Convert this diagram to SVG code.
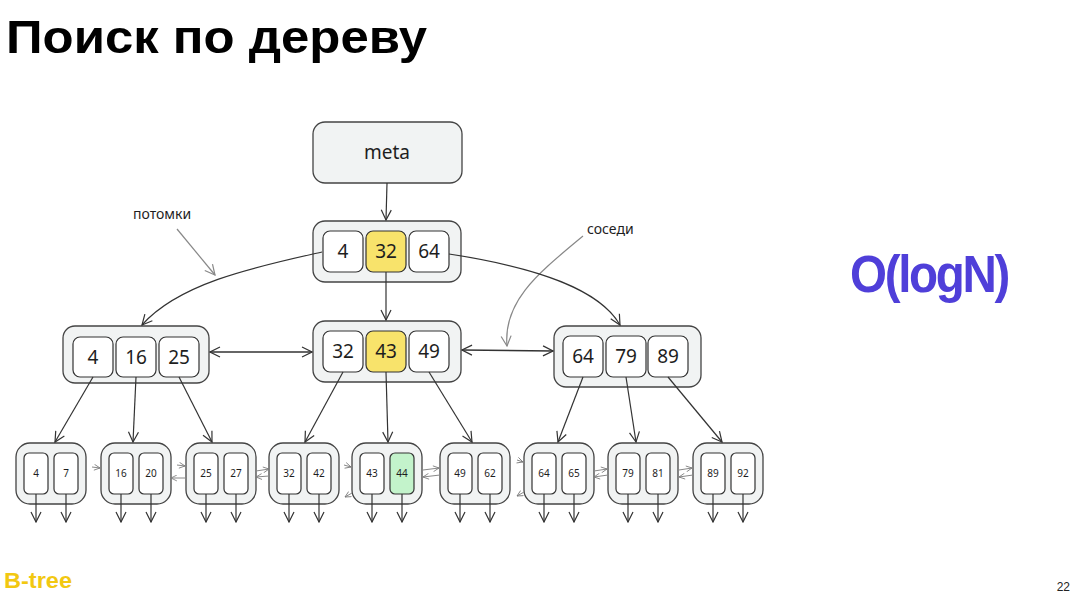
<svg xmlns="http://www.w3.org/2000/svg" width="1077" height="598" viewBox="0 0 1077 598">
  <defs>
    <marker id="arr" viewBox="0 0 12 12" refX="11" refY="6" markerWidth="12" markerHeight="12" markerUnits="userSpaceOnUse" orient="auto-start-reverse">
      <path d="M1,1 L11,6 L1,11" fill="none" stroke="#333" stroke-width="1.2"/>
    </marker>
    <marker id="arrGray" viewBox="0 0 12 12" refX="11" refY="6" markerWidth="12" markerHeight="12" markerUnits="userSpaceOnUse" orient="auto">
      <path d="M1,1 L11,6 L1,11" fill="none" stroke="#888" stroke-width="1.2"/>
    </marker>
    <marker id="arrSmall" viewBox="0 0 12 12" refX="11" refY="6" markerWidth="7" markerHeight="7" markerUnits="userSpaceOnUse" orient="auto-start-reverse">
      <path d="M1,1 L11,6 L1,11" fill="none" stroke="#777" stroke-width="1.4"/>
    </marker>
  </defs>
  <style>
    .node { fill: #f1f3f3; stroke: #444; stroke-width: 1.3; }
    .cell { fill: #ffffff; stroke: #333; stroke-width: 1.2; }
    .hl { fill: #f8e36b; }
    .found { fill: #c3f3cb; }
    .num { font-family: "Noto Sans", "DejaVu Sans", sans-serif; font-size: 19px; fill: #1e1e1e; text-anchor: middle; }
    .leafnum { font-family: "Noto Sans", "DejaVu Sans", sans-serif; font-size: 10px; fill: #1e1e1e; text-anchor: middle; }
    .note { font-family: "Noto Sans", "DejaVu Sans", sans-serif; font-size: 14px; fill: #1e1e1e; }
    .edge { fill: none; stroke: #333; stroke-width: 1.2; marker-end: url(#arr); }
    .both { fill: none; stroke: #333; stroke-width: 1.4; marker-start: url(#arr); marker-end: url(#arr); }
    .hint { fill: none; stroke: #888; stroke-width: 1.2; marker-end: url(#arrGray); }
    .link { fill: none; stroke: #888; stroke-width: 1; marker-end: url(#arrSmall); }
  </style>

  <rect width="1077" height="598" fill="#ffffff"/>

  <!-- slide title -->
  <text x="6" y="53" font-family="Liberation Sans, Arial, sans-serif" font-weight="bold" font-size="46" fill="#000" textLength="421" lengthAdjust="spacingAndGlyphs">Поиск по дереву</text>

  <!-- complexity -->
  <text x="850" y="292" font-family="Liberation Sans, Arial, sans-serif" font-weight="bold" font-size="51" fill="#4f3fd9" letter-spacing="-2.5" textLength="158" lengthAdjust="spacingAndGlyphs">O(logN)</text>

  <!-- footer -->
  <text x="4" y="588" font-family="Liberation Sans, Arial, sans-serif" font-weight="bold" font-size="22" fill="#f2c811" textLength="68" lengthAdjust="spacingAndGlyphs">B-tree</text>
  <text x="1070" y="591" font-family="Liberation Sans, Arial, sans-serif" font-size="12" fill="#222" text-anchor="end">22</text>

  <!-- meta page -->
  <g id="meta">
    <rect x="313" y="122" width="149" height="61" rx="12" class="node"/>
    <text x="387" y="159" class="num" font-size="17">meta</text>
  </g>

  <!-- root page -->
  <g id="root">
    <rect x="313" y="221" width="148" height="61" rx="12" class="node"/>
    <rect x="323" y="231" width="40" height="41" rx="7" class="cell"/>
    <rect x="366" y="231" width="40" height="41" rx="7" class="cell hl"/>
    <rect x="409" y="231" width="40" height="41" rx="7" class="cell"/>
    <text x="343" y="258" class="num">4</text>
    <text x="386" y="258" class="num">32</text>
    <text x="429" y="258" class="num">64</text>
  </g>

  <!-- internal pages -->
  <g id="inner-left">
    <rect x="63" y="326" width="146" height="57" rx="12" class="node"/>
    <rect x="73" y="337" width="40" height="40" rx="7" class="cell"/>
    <rect x="116" y="337" width="40" height="40" rx="7" class="cell"/>
    <rect x="159" y="337" width="40" height="40" rx="7" class="cell"/>
    <text x="93" y="364" class="num">4</text>
    <text x="136" y="364" class="num">16</text>
    <text x="179" y="364" class="num">25</text>
  </g>
  <g id="inner-mid">
    <rect x="313" y="321" width="148" height="61" rx="12" class="node"/>
    <rect x="323" y="331" width="40" height="41" rx="7" class="cell"/>
    <rect x="366" y="331" width="40" height="41" rx="7" class="cell hl"/>
    <rect x="409" y="331" width="40" height="41" rx="7" class="cell"/>
    <text x="343" y="358" class="num">32</text>
    <text x="386" y="358" class="num">43</text>
    <text x="429" y="358" class="num">49</text>
  </g>
  <g id="inner-right">
    <rect x="554" y="326" width="147" height="61" rx="12" class="node"/>
    <rect x="563" y="336" width="40" height="41" rx="7" class="cell"/>
    <rect x="606" y="336" width="40" height="41" rx="7" class="cell"/>
    <rect x="648" y="336" width="40" height="41" rx="7" class="cell"/>
    <text x="583" y="363" class="num">64</text>
    <text x="626" y="363" class="num">79</text>
    <text x="668" y="363" class="num">89</text>
  </g>

  <!-- leaf pages -->
  <g id="leaf-1">
    <rect x="16" y="443" width="70" height="61" rx="14" class="node"/>
    <rect x="24" y="453" width="24" height="41" rx="5" class="cell"/>
    <rect x="54" y="453" width="24" height="41" rx="5" class="cell"/>
    <text x="36" y="477" class="leafnum">4</text>
    <text x="66" y="477" class="leafnum">7</text>
  </g>
  <g id="leaf-2">
    <rect x="101" y="443" width="70" height="61" rx="14" class="node"/>
    <rect x="109" y="453" width="24" height="41" rx="5" class="cell"/>
    <rect x="139" y="453" width="24" height="41" rx="5" class="cell"/>
    <text x="121" y="477" class="leafnum">16</text>
    <text x="151" y="477" class="leafnum">20</text>
  </g>
  <g id="leaf-3">
    <rect x="186" y="443" width="70" height="61" rx="14" class="node"/>
    <rect x="194" y="453" width="24" height="41" rx="5" class="cell"/>
    <rect x="224" y="453" width="24" height="41" rx="5" class="cell"/>
    <text x="206" y="477" class="leafnum">25</text>
    <text x="236" y="477" class="leafnum">27</text>
  </g>
  <g id="leaf-4">
    <rect x="269" y="443" width="70" height="61" rx="14" class="node"/>
    <rect x="277" y="453" width="24" height="41" rx="5" class="cell"/>
    <rect x="307" y="453" width="24" height="41" rx="5" class="cell"/>
    <text x="289" y="477" class="leafnum">32</text>
    <text x="319" y="477" class="leafnum">42</text>
  </g>
  <g id="leaf-5">
    <rect x="352" y="443" width="70" height="61" rx="14" class="node"/>
    <rect x="360" y="453" width="24" height="41" rx="5" class="cell"/>
    <rect x="390" y="453" width="24" height="41" rx="5" class="cell found"/>
    <text x="372" y="477" class="leafnum">43</text>
    <text x="402" y="477" class="leafnum">44</text>
  </g>
  <g id="leaf-6">
    <rect x="440" y="443" width="70" height="61" rx="14" class="node"/>
    <rect x="448" y="453" width="24" height="41" rx="5" class="cell"/>
    <rect x="478" y="453" width="24" height="41" rx="5" class="cell"/>
    <text x="460" y="477" class="leafnum">49</text>
    <text x="490" y="477" class="leafnum">62</text>
  </g>
  <g id="leaf-7">
    <rect x="524" y="443" width="70" height="61" rx="14" class="node"/>
    <rect x="532" y="453" width="24" height="41" rx="5" class="cell"/>
    <rect x="562" y="453" width="24" height="41" rx="5" class="cell"/>
    <text x="544" y="477" class="leafnum">64</text>
    <text x="574" y="477" class="leafnum">65</text>
  </g>
  <g id="leaf-8">
    <rect x="608" y="443" width="70" height="61" rx="14" class="node"/>
    <rect x="616" y="453" width="24" height="41" rx="5" class="cell"/>
    <rect x="646" y="453" width="24" height="41" rx="5" class="cell"/>
    <text x="628" y="477" class="leafnum">79</text>
    <text x="658" y="477" class="leafnum">81</text>
  </g>
  <g id="leaf-9">
    <rect x="693" y="443" width="70" height="61" rx="14" class="node"/>
    <rect x="701" y="453" width="24" height="41" rx="5" class="cell"/>
    <rect x="731" y="453" width="24" height="41" rx="5" class="cell"/>
    <text x="713" y="477" class="leafnum">89</text>
    <text x="743" y="477" class="leafnum">92</text>
  </g>

  <!-- annotations -->
  <g id="note-children">
    <text x="133" y="219" class="note">потомки</text>
    <path d="M177,229 L215,275" class="hint"/>
  </g>
  <g id="note-siblings">
    <text x="587" y="234" class="note">соседи</text>
    <path d="M583,236 C540,272 503,300 507,346" class="hint"/>
  </g>

  <!-- connectors -->
  <g id="connectors">
    <!-- meta to root, root to children -->
    <path d="M387,183 L386,220" class="edge"/>
    <path d="M386,272 L386,320" class="edge"/>
    <path d="M322,252 C260,266 180,282 142,325" class="edge"/>
    <path d="M449,254 C540,268 600,290 620,325" class="edge"/>

    <!-- sibling links between internal pages -->
    <path d="M210,352 L312,352" class="both"/>
    <path d="M462,350 L553,351" class="both"/>

    <!-- internal pages to leaves -->
    <path d="M93,377 L55,442" class="edge"/>
    <path d="M136,377 L133,442" class="edge"/>
    <path d="M179,377 L212,442" class="edge"/>
    <path d="M343,372 L305,442" class="edge"/>
    <path d="M386,372 L388,442" class="edge"/>
    <path d="M429,372 L472,442" class="edge"/>
    <path d="M583,377 L558,442" class="edge"/>
    <path d="M626,377 L636,442" class="edge"/>
    <path d="M668,377 L722,442" class="edge"/>

    <!-- leaves to rows -->
    <path d="M36,494 L36,522" class="edge"/>
    <path d="M66,494 L66,522" class="edge"/>
    <path d="M121,494 L121,522" class="edge"/>
    <path d="M151,494 L151,522" class="edge"/>
    <path d="M206,494 L206,522" class="edge"/>
    <path d="M236,494 L236,522" class="edge"/>
    <path d="M289,494 L289,522" class="edge"/>
    <path d="M319,494 L319,522" class="edge"/>
    <path d="M372,494 L372,522" class="edge"/>
    <path d="M402,494 L402,522" class="edge"/>
    <path d="M460,494 L460,522" class="edge"/>
    <path d="M490,494 L490,522" class="edge"/>
    <path d="M544,494 L544,522" class="edge"/>
    <path d="M574,494 L574,522" class="edge"/>
    <path d="M628,494 L628,522" class="edge"/>
    <path d="M658,494 L658,522" class="edge"/>
    <path d="M713,494 L713,522" class="edge"/>
    <path d="M743,494 L743,522" class="edge"/>

    <!-- sibling links between leaves -->
    <path d="M92,467 L100,468" class="link"/>
    <path d="M177,465 L185,466" class="link"/>
    <path d="M186,478 L171,478" class="link"/>
    <path d="M256,471 L269,469" class="link"/>
    <path d="M269,476 L256,477" class="link"/>
    <path d="M344,465 L351,467" class="link"/>
    <path d="M352,493 L345,497" class="link"/>
    <path d="M423,470 L439,468" class="link"/>
    <path d="M440,475 L423,477" class="link"/>
    <path d="M517,460 L523,462" class="link"/>
    <path d="M524,492 L517,496" class="link"/>
    <path d="M594,471 L607,469" class="link"/>
    <path d="M608,475 L594,477" class="link"/>
    <path d="M679,470 L692,468" class="link"/>
    <path d="M693,475 L679,477" class="link"/>
  </g>
</svg>
